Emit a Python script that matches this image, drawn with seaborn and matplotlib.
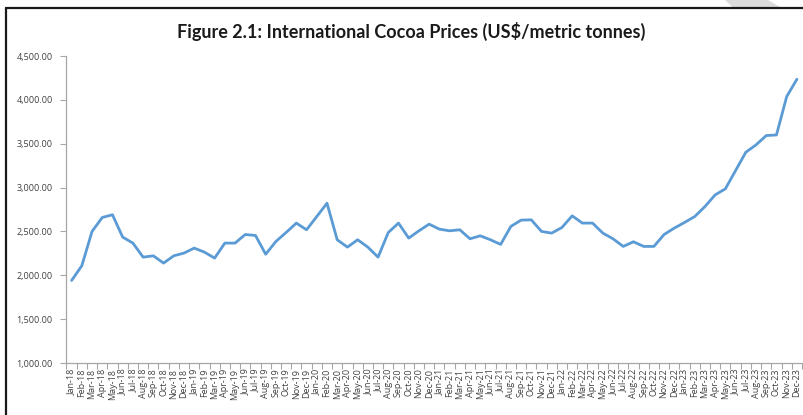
import numpy as np
import pandas as pd
import matplotlib
matplotlib.use("Agg")
import matplotlib.pyplot as plt
from matplotlib.lines import Line2D
from matplotlib.patches import Polygon
from matplotlib.ticker import FuncFormatter, MultipleLocator
import seaborn as sns

months = [
    "Jan-18", "Feb-18", "Mar-18", "Apr-18", "May-18", "Jun-18", "Jul-18", "Aug-18", "Sep-18", "Oct-18", "Nov-18", "Dec-18",
    "Jan-19", "Feb-19", "Mar-19", "Apr-19", "May-19", "Jun-19", "Jul-19", "Aug-19", "Sep-19", "Oct-19", "Nov-19", "Dec-19",
    "Jan-20", "Feb-20", "Mar-20", "Apr-20", "May-20", "Jun-20", "Jul-20", "Aug-20", "Sep-20", "Oct-20", "Nov-20", "Dec-20",
    "Jan-21", "Feb-21", "Mar-21", "Apr-21", "May-21", "Jun-21", "Jul-21", "Aug-21", "Sep-21", "Oct-21", "Nov-21", "Dec-21",
    "Jan-22", "Feb-22", "Mar-22", "Apr-22", "May-22", "Jun-22", "Jul-22", "Aug-22", "Sep-22", "Oct-22", "Nov-22", "Dec-22",
    "Jan-23", "Feb-23", "Mar-23", "Apr-23", "May-23", "Jun-23", "Jul-23", "Aug-23", "Sep-23", "Oct-23", "Nov-23", "Dec-23",
]

prices = [
    1941, 2109, 2500, 2659, 2690, 2435, 2367, 2207, 2222, 2139, 2222, 2253,
    2310, 2264, 2196, 2367, 2367, 2465, 2454, 2240, 2386, 2488, 2595, 2519,
    2670, 2822, 2405, 2321, 2405, 2321, 2207, 2488, 2595, 2424, 2507, 2583,
    2526, 2507, 2519, 2416, 2450, 2405, 2352, 2557, 2629, 2632, 2500, 2481,
    2545, 2678, 2595, 2595, 2481, 2416, 2329, 2382, 2329, 2329, 2465, 2538,
    2602, 2670, 2784, 2917, 2986, 3194, 3403, 3487, 3593, 3600, 4037, 4235,
]

title = "Figure 2.1: International Cocoa Prices (US$/metric tonnes)"

df = pd.DataFrame({"pos": np.arange(len(months)), "month": months, "price": prices})

sns.set_theme(style="white")
plt.rcParams["font.family"] = ["Open Sans", "DejaVu Sans"]

W, H = 804, 415
fig = plt.figure(figsize=(W / 100, H / 100), dpi=100)
ax = fig.add_axes([66.5 / W, 1 - 363 / H, (802 - 66.5) / W, (363 - 56) / H])

sns.lineplot(data=df, x="pos", y="price", ax=ax, color="#5B9BD5",
             linewidth=2.0, sort=False, legend=False)

ax.set_xlim(-0.5, len(months) - 0.5)
ax.set_ylim(1000, 4500)
ax.set_xlabel("")
ax.set_ylabel("")

axis_grey = "#a6a6a6"
label_grey = "#404040"

# y axis
ax.yaxis.set_major_locator(MultipleLocator(500))
ax.yaxis.set_major_formatter(FuncFormatter(lambda v, _: f"{v:,.2f}"))
ax.tick_params(axis="y", which="major", length=4, width=0.8, color=axis_grey,
               labelsize=6.5, labelcolor=label_grey, pad=6, left=True)

# x axis: labels at categories, tick marks between categories
ax.set_xticks(df["pos"])
ax.set_xticklabels(df["month"], rotation=90)
ax.set_xticks(np.arange(-0.5, len(months), 1.0), minor=True)
ax.tick_params(axis="x", which="major", length=0, labelsize=6.5,
               labelcolor=label_grey, pad=4)
ax.tick_params(axis="x", which="minor", length=4, width=0.8, color=axis_grey,
               bottom=True)

for side in ("top", "right"):
    ax.spines[side].set_visible(False)
for side in ("left", "bottom"):
    ax.spines[side].set_color(axis_grey)
    ax.spines[side].set_linewidth(0.9)

fig.text(411 / W, 1 - 31 / H, title, ha="center", va="center",
         fontsize=13, fontweight="bold", color="#1a1a1a",
         family=["Lato", "DejaVu Sans"])

# frame around the figure panel
fig.add_artist(Line2D([6.5 / W, 6.5 / W], [0, 1 - 8.5 / H],
                      transform=fig.transFigure, color="#1a1a1a", linewidth=1.6))
fig.add_artist(Line2D([5.7 / W, 1], [1 - 8.5 / H, 1 - 8.5 / H],
                      transform=fig.transFigure, color="#1a1a1a", linewidth=1.6))
fig.add_artist(Polygon([[725 / W, 1], [768 / W, 1], [781 / W, 1 - 7.5 / H], [733 / W, 1 - 7.5 / H]],
                       closed=True, transform=fig.transFigure, facecolor="#dcdcdc",
                       edgecolor="none"))

fig.savefig("out.png", dpi=100)
